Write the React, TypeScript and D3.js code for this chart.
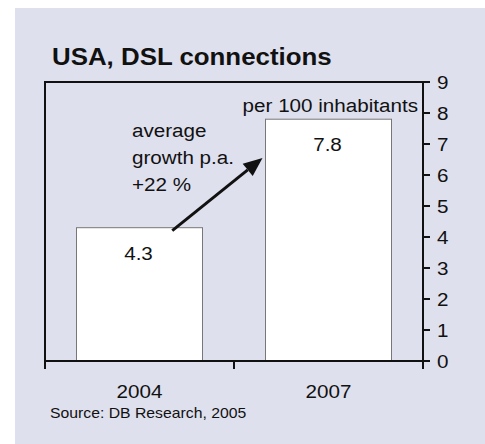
import React from "react";
import * as d3 from "d3";

const categories = ["2004", "2007"];
const values = [4.3, 7.8];
const valueLabels = ["4.3", "7.8"];
const yTicks = [0, 1, 2, 3, 4, 5, 6, 7, 8, 9];
const title = "USA, DSL connections";
const unitLabel = "per 100 inhabitants";
const growthLines = ["average", "growth p.a.", "+22 %"];
const source = "Source: DB Research, 2005";

const W = 485;
const H = 444;
const SX = 1.11;
const FONT = "Liberation Sans, Arial, Helvetica, sans-serif";
const INK = "#111";

function T({ x, y, size, anchor = "start", bold = false, children }: any) {
  return (
    <text
      transform={`translate(${x},${y}) scale(${SX},1)`}
      fontSize={size}
      fontFamily={FONT}
      fontWeight={bold ? "bold" : "normal"}
      textAnchor={anchor}
      fill={INK}
    >
      {children}
    </text>
  );
}

export default function App() {
  const left = 45;
  const right = 423;
  const top = 82;
  const bottom = 361;
  const y = d3.scaleLinear().domain([0, 9]).range([bottom, top]);
  const x = d3
    .scaleBand<string>()
    .domain(categories)
    .range([left, right])
    .paddingInner(1 / 3)
    .paddingOuter(1 / 6);
  const bw = x.bandwidth();

  const x0 = x(categories[0])! + bw * 0.76;
  const y0 = y(values[0]) + 3;
  const x1 = x(categories[1])! - 3;
  const y1 = y(6.55);
  const ang = Math.atan2(y1 - y0, x1 - x0);
  const hl = 19;
  const hw = 8;
  const bx = x1 - hl * Math.cos(ang);
  const by = y1 - hl * Math.sin(ang);
  const head = [
    [x1, y1],
    [bx + hw * Math.sin(ang), by - hw * Math.cos(ang)],
    [bx - hw * Math.sin(ang), by + hw * Math.cos(ang)],
  ];

  return (
    <svg
      width={W}
      height={H}
      style={{ position: "absolute", left: 0, top: 0, display: "block" }}
    >
      <rect x={0} y={0} width={W} height={H} fill="#ffffff" />
      <rect x={15} y={8} width={W - 15} height={H - 8} fill="#dfe0ee" />
      <T x={52} y={65} size={23.3} bold>
        {title}
      </T>

      {categories.map((c, i) => (
        <rect
          key={c}
          x={x(c)!}
          y={y(values[i])}
          width={bw}
          height={y(0) - y(values[i])}
          fill="#ffffff"
          stroke="#777"
          strokeWidth={1}
        />
      ))}

      {/* frame */}
      <line x1={left} x2={left} y1={top - 1} y2={bottom + 8} stroke={INK} strokeWidth={2} />
      <line x1={left - 1} x2={right + 7} y1={top} y2={top} stroke={INK} strokeWidth={2} />
      <line x1={right} x2={right} y1={top - 1} y2={bottom + 8} stroke={INK} strokeWidth={2} />
      <line x1={left - 1} x2={right + 7} y1={bottom} y2={bottom} stroke={INK} strokeWidth={2} />

      {yTicks.map((t) => (
        <g key={t}>
          <line x1={right} x2={right + 7} y1={y(t)} y2={y(t)} stroke={INK} strokeWidth={2} />
          <T x={437} y={y(t) + 6.7} size={18.6}>
            {t}
          </T>
        </g>
      ))}

      {[left, (left + right) / 2, right].map((px, i) => (
        <line key={i} x1={px} x2={px} y1={bottom} y2={bottom + 8} stroke={INK} strokeWidth={2} />
      ))}

      {categories.map((c) => (
        <T key={c} x={x(c)! + bw / 2} y={398} size={18.6} anchor="middle">
          {c}
        </T>
      ))}

      {categories.map((c, i) => (
        <T key={c} x={x(c)! + bw / 2 - 1} y={y(values[i]) + 32.2} size={18.6} anchor="middle">
          {valueLabels[i]}
        </T>
      ))}

      <T x={418} y={112} size={18.6} anchor="end">
        {unitLabel}
      </T>

      {growthLines.map((l, i) => (
        <T key={i} x={132} y={137 + i * 27} size={18.6}>
          {l}
        </T>
      ))}

      <line x1={x0} y1={y0} x2={bx} y2={by} stroke={INK} strokeWidth={3} />
      <polygon points={head.map((p) => p.join(",")).join(" ")} fill={INK} />

      <T x={50} y={418} size={14.2}>
        {source}
      </T>
    </svg>
  );
}
